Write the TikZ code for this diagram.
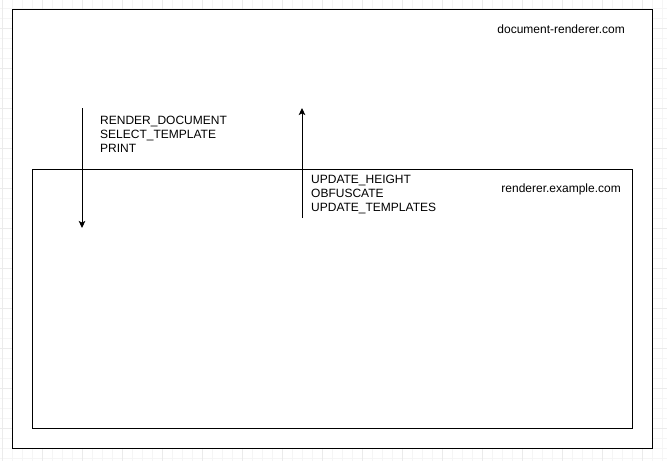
\documentclass[tikz,border=0pt]{standalone}
\usepackage{fontspec}
\setmainfont{Liberation Sans}
\usetikzlibrary{arrows.meta,positioning}

\tikzset{
  zone/.style={draw=black, line width=1pt, fill=white, inner sep=0pt},
  host/.style={inner sep=0pt, anchor=east, font=\fontsize{12}{14}\selectfont},
  msgs/.style={align=left, inner sep=0pt, anchor=west, font=\fontsize{12}{14}\selectfont},
  call/.style={-{Stealth[length=7pt,width=6.5pt,inset=1.5pt]}, line width=1pt},
  minorgrid/.style={black!4, line width=0.8pt},
  majorgrid/.style={black!8, line width=0.8pt},
}

\begin{document}
\begin{tikzpicture}[x=1pt,y=-1pt]
  % page
  \useasboundingbox (0,0) rectangle (667,461);

  % background grid
  \foreach \gx in {2,12,...,662} \draw[minorgrid] (\gx+0.5,0) -- (\gx+0.5,461);
  \foreach \gy in {8,18,...,458} \draw[minorgrid] (0,\gy) -- (667,\gy);
  \foreach \gx in {2,42,...,642} \draw[majorgrid] (\gx+0.5,0) -- (\gx+0.5,461);
  \foreach \gy in {28,68,...,428} \draw[majorgrid] (0,\gy) -- (667,\gy);

  % document-renderer.com
  \node[zone, minimum width=640pt, minimum height=439pt] (outer) at (332,228.5) {};
  \node[host] (outerhost) at (625,29) {document-renderer.com};

  % renderer.example.com
  \node[zone, minimum width=600pt, minimum height=259pt] (inner) at (332,298.5) {};
  \node[host] (innerhost) at (621,189) {renderer.example.com};

  % calls into the renderer
  \coordinate (reqtop) at (82,108);
  \coordinate (reqend) at (82,228);
  \draw[call] (reqtop) -- (reqend);
  \node[msgs] (reqmsgs) at (100,134) {RENDER\_DOCUMENT\\SELECT\_TEMPLATE\\PRINT};

  % calls back out
  \coordinate (backstart) at (302,218);
  \coordinate (backend) at (302,108);
  \draw[call] (backstart) -- (backend);
  \node[msgs] (backmsgs) at (311,194) {UPDATE\_HEIGHT\\OBFUSCATE\\UPDATE\_TEMPLATES};
\end{tikzpicture}
\end{document}
